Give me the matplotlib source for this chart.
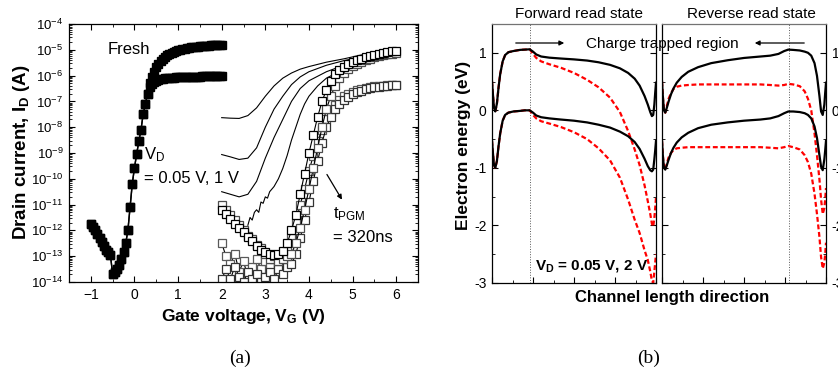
import numpy as np
import matplotlib.pyplot as plt
from matplotlib.patches import FancyArrowPatch
from matplotlib.ticker import LogLocator, NullFormatter, MultipleLocator

plt.rcParams['font.family'] = ['Liberation Sans', 'DejaVu Sans']
plt.rcParams['mathtext.fontset'] = 'custom'
plt.rcParams['mathtext.rm'] = 'Liberation Sans'
plt.rcParams['mathtext.it'] = 'Liberation Sans:italic'
plt.rcParams['mathtext.bf'] = 'Liberation Sans:bold'
plt.rcParams['xtick.direction'] = 'in'
plt.rcParams['ytick.direction'] = 'in'

W, H = 838, 382

# ---------------- (a) transfer curves, log10(I_D) ----------------
vg_fresh = np.round(np.linspace(-1.0, 2.0, 61), 2)
fresh_sub = [-11.75, -11.85, -12.0, -12.15, -12.3, -12.45, -12.6, -12.75, -12.85, -12.95,
             -13.7, -13.6, -13.5, -13.35, -13.1, -12.85, -12.5, -12.0, -11.1, -10.2,
             -9.58, -9.05, -8.55, -8.1, -7.5, -7.12, -6.7]
fresh_hi = [-6.3, -6.05, -5.85, -5.68, -5.55, -5.43, -5.34, -5.26, -5.2, -5.15,
            -5.11, -5.07, -5.04, -5.01, -4.99, -4.97, -4.95, -4.94, -4.93, -4.91,
            -4.9, -4.89, -4.88, -4.87, -4.86, -4.85, -4.85, -4.84, -4.83, -4.83,
            -4.82, -4.82, -4.81, -4.81]
fresh_lo = [-6.45, -6.32, -6.24, -6.19, -6.16, -6.14, -6.12, -6.11, -6.1, -6.09,
            -6.08, -6.08, -6.07, -6.07, -6.06, -6.06, -6.06, -6.05, -6.05, -6.05,
            -6.04, -6.04, -6.04, -6.04, -6.03, -6.03, -6.03, -6.03, -6.03, -6.02,
            -6.02, -6.02, -6.02, -6.02]

# short programming times (plain lines)
vg_line = [2.0, 2.2, 2.4, 2.6, 2.8, 3.0, 3.2, 3.4, 3.6, 3.8, 4.0, 4.4, 4.8, 5.2, 5.6, 6.0]
line1 = [-7.63, -7.65, -7.66, -7.55, -7.25, -6.8, -6.4, -6.1, -5.9, -5.75, -5.65, -5.48, -5.35, -5.2, -5.08, -4.95]
line2 = [-9.06, -9.15, -9.25, -9.2, -8.8, -8.0, -7.3, -6.8, -6.35, -6.05, -5.85, -5.6, -5.42, -5.28, -5.18, -5.08]
line3 = [-10.5, -10.6, -10.7, -10.6, -10.1, -9.2, -8.4, -7.7, -7.0, -6.5, -6.2, -5.85, -5.6, -5.42, -5.28, -5.15]
vg_line4 = [2.6, 2.65, 2.7, 2.75, 2.8, 2.85, 2.9, 2.95, 3.0, 3.05, 3.1, 3.2, 3.3, 3.4, 3.5,
            3.6, 3.7, 3.8, 3.9, 4.0, 4.2, 4.4, 4.8, 5.2, 5.6, 6.0]
line4 = [-11.8, -11.5, -11.6, -11.3, -11.2, -11.3, -10.9, -10.95, -10.7, -10.75, -10.5, -10.3, -10.0,
         -9.6, -9.1, -8.5, -8.0, -7.5, -7.1, -6.8, -6.4, -6.1, -5.75, -5.55, -5.4, -5.3]

# t_PGM = 320 ns (open squares)
vg_sq = np.round(np.linspace(2.0, 6.0, 41), 2)
sq_a = [-11.2, -11.35, -11.55, -11.75, -11.9, -12.05, -12.25, -12.4, -12.6, -12.75,
        -12.85, -12.9, -12.95, -12.9, -12.8, -12.5, -12.0, -11.4, -10.6, -9.8,
        -9.0, -8.3, -7.6, -7.0, -6.55, -6.2, -5.95, -5.78, -5.65, -5.55,
        -5.47, -5.4, -5.34, -5.29, -5.24, -5.2, -5.16, -5.12, -5.09, -5.06, -5.03]
sq_b = [-11.0, -11.2, -11.4, -11.6, -11.8, -12.0, -12.2, -12.35, -12.55, -12.7,
        -12.9, -13.1, -13.0, -13.2, -13.1, -13.0, -12.9, -12.5, -11.9, -11.2,
        -10.4, -9.6, -8.8, -8.0, -7.3, -6.8, -6.4, -6.1, -5.9, -5.75,
        -5.63, -5.54, -5.46, -5.4, -5.34, -5.29, -5.25, -5.21, -5.18, -5.15, -5.12]
sq_c = [-12.5, -13.0, -13.3, -12.9, -13.6, -13.2, -13.8, -13.4, -13.1, -13.5,
        -13.2, -13.4, -13.1, -13.3, -13.0, -12.8, -12.3, -11.7, -11.0, -10.4,
        -9.7, -9.1, -8.55, -8.1, -7.7, -7.4, -7.15, -6.95, -6.8, -6.7,
        -6.62, -6.56, -6.51, -6.47, -6.44, -6.42, -6.4, -6.39, -6.38, -6.37, -6.36]
sq_d = [-13.9, -13.5, -13.9, -13.4, -13.8, -14.0, -13.6, -13.9, -13.7, -14.0,
        -13.8, -13.6, -13.9, -13.5, -13.7, -13.4, -13.3, -12.9, -12.3, -11.6,
        -10.9, -10.1, -9.3, -8.6, -8.0, -7.6, -7.3, -7.1, -6.95, -6.83,
        -6.73, -6.65, -6.58, -6.53, -6.49, -6.46, -6.43, -6.41, -6.39, -6.38, -6.37]

# ---------------- (b) band diagrams ----------------
x_fwd = [0.0, 0.005, 0.012, 0.02, 0.03, 0.04, 0.05, 0.065, 0.08, 0.10, 0.13, 0.17, 0.20, 0.23,
         0.25, 0.27, 0.30, 0.35, 0.42, 0.50, 0.58, 0.65, 0.72, 0.78, 0.83, 0.87, 0.90, 0.93,
         0.95, 0.965, 0.975, 0.983, 0.99, 0.995, 1.0]
fwd_ec_lo = [0.50, 0.30, 0.05, -0.02, 0.12, 0.40, 0.63, 0.85, 0.96, 1.01, 1.03, 1.05, 1.055, 1.06,
             1.02, 0.97, 0.935, 0.915, 0.90, 0.885, 0.865, 0.835, 0.79, 0.73, 0.65, 0.55, 0.43, 0.25,
             0.10, -0.03, -0.10, -0.08, 0.10, 0.30, 0.48]
fwd_ec_hi = [0.50, 0.30, 0.05, -0.02, 0.12, 0.40, 0.63, 0.85, 0.96, 1.01, 1.03, 1.05, 1.055, 1.06,
             0.98, 0.91, 0.85, 0.80, 0.74, 0.65, 0.53, 0.40, 0.22, -0.03, -0.36, -0.68, -0.95, -1.30,
             -1.58, -1.80, -1.97, -2.02, -1.87, -1.70, -1.52]
fwd_ev_lo = [-0.53, -0.72, -0.95, -1.0, -0.88, -0.62, -0.40, -0.18, -0.08, -0.04, -0.02, -0.01, 0.0, 0.0,
             -0.04, -0.09, -0.12, -0.14, -0.16, -0.18, -0.21, -0.25, -0.30, -0.37, -0.45, -0.55, -0.67, -0.84,
             -0.97, -1.04, -1.06, -1.03, -0.85, -0.70, -0.53]
fwd_ev_hi = [-0.53, -0.72, -0.95, -1.0, -0.88, -0.62, -0.40, -0.18, -0.08, -0.04, -0.02, -0.01, 0.0, 0.0,
             -0.08, -0.14, -0.19, -0.23, -0.29, -0.38, -0.50, -0.66, -0.87, -1.17, -1.55, -1.90, -2.13, -2.43,
             -2.60, -2.80, -2.96, -3.0, -2.80, -2.65, -2.50]

x_rev = [0.0, 0.005, 0.012, 0.02, 0.03, 0.04, 0.055, 0.07, 0.09, 0.12, 0.16, 0.22, 0.30, 0.40, 0.50,
         0.60, 0.66, 0.71, 0.745, 0.77, 0.80, 0.84, 0.87, 0.89, 0.91, 0.93, 0.945, 0.96, 0.97,
         0.98, 0.99, 0.995, 1.0]
rev_ec_lo = [0.50, 0.25, 0.0, -0.04, 0.05, 0.15, 0.28, 0.38, 0.48, 0.58, 0.67, 0.75, 0.82, 0.87, 0.91,
             0.935, 0.95, 0.98, 1.03, 1.055, 1.05, 1.04, 1.02, 1.0, 0.95, 0.82, 0.60, 0.25, -0.02,
             -0.08, 0.10, 0.30, 0.48]
rev_ec_hi = [0.50, 0.25, 0.0, -0.04, 0.08, 0.20, 0.30, 0.37, 0.41, 0.43, 0.44, 0.45, 0.45, 0.45, 0.45,
             0.45, 0.44, 0.43, 0.44, 0.46, 0.45, 0.42, 0.33, 0.20, 0.0, -0.40, -0.78, -1.20, -1.55,
             -1.80, -1.70, -1.55, -1.35]
rev_ev_lo = [-0.53, -0.78, -1.0, -1.03, -0.95, -0.86, -0.74, -0.65, -0.56, -0.47, -0.39, -0.31, -0.25, -0.21, -0.18,
             -0.16, -0.14, -0.10, -0.05, -0.02, -0.02, -0.03, -0.05, -0.08, -0.14, -0.28, -0.48, -0.78, -0.98,
             -1.04, -0.85, -0.70, -0.53]
rev_ev_hi = [-0.53, -0.78, -1.0, -1.03, -0.92, -0.82, -0.74, -0.69, -0.66, -0.65, -0.64, -0.64, -0.64, -0.64, -0.64,
             -0.64, -0.65, -0.66, -0.64, -0.62, -0.64, -0.68, -0.78, -0.90, -1.10, -1.45, -1.80, -2.20, -2.55,
             -2.75, -2.65, -2.50, -2.30]


def fpx(x, y):
    # pixel position in the 838x382 picture -> figure fraction
    return x / W, 1 - y / H


fig = plt.figure(figsize=(W / 100, H / 100), dpi=100)

# ===== panel (a) =====
ax = fig.add_axes([69 / W, 1 - 282 / H, 349 / W, 258 / H])
ax.plot(vg_fresh, 10 ** np.array(fresh_sub + fresh_hi), 'k-', lw=1.0, marker='s', ms=5.6,
        mfc='k', mec='k')
ax.plot(vg_fresh, 10 ** np.array(fresh_sub + fresh_lo), 'k-', lw=1.0, marker='s', ms=5.6,
        mfc='k', mec='k')
for yy in (line1, line2, line3):
    ax.plot(vg_line, 10 ** np.array(yy), 'k-', lw=0.8)
ax.plot(vg_line4, 10 ** np.array(line4), 'k-', lw=0.8)
for yy, ec in ((sq_c, '0.35'), (sq_d, '0.2'), (sq_b, '0.3'), (sq_a, 'k')):
    ax.plot(vg_sq, 10 ** np.array(yy), '-', color='k', lw=0.8, marker='s', ms=6,
            mfc='white', mec=ec, mew=0.9)

ax.set_yscale('log')
ax.set_xlim(-1.5, 6.5)
ax.set_ylim(1e-14, 1e-4)
ax.xaxis.set_major_locator(MultipleLocator(1))
ax.xaxis.set_minor_locator(MultipleLocator(0.5))
ax.yaxis.set_major_locator(LogLocator(base=10, numticks=20))
ax.yaxis.set_minor_locator(LogLocator(base=10, subs=np.arange(2, 10), numticks=20))
ax.yaxis.set_minor_formatter(NullFormatter())
ax.tick_params(which='both', top=True, right=True, pad=4)
ax.tick_params(axis='x', labelsize=10)
ax.tick_params(axis='y', labelsize=9.5)
ax.tick_params(which='major', length=4, width=0.8)
ax.tick_params(which='minor', length=2, width=0.6)
for s in ax.spines.values():
    s.set_linewidth(0.9)

ax.text(-0.62, 10 ** -5.0, 'Fresh', fontsize=12, va='center')
fig.text(*fpx(144, 159), r'V$_\mathrm{D}$', fontsize=12)
fig.text(*fpx(144, 183), '= 0.05 V, 1 V', fontsize=12)
fig.text(*fpx(333, 218), r't$_\mathrm{PGM}$', fontsize=12)
fig.text(*fpx(333, 242), '= 320ns', fontsize=12)
ax.annotate('', xy=(4.79, 10 ** -10.9), xytext=(4.38, 10 ** -9.74),
            arrowprops=dict(arrowstyle='-|>', color='k', lw=0.9, mutation_scale=7))

fig.text(*fpx(243.5, 321), r'Gate voltage, V$_\mathbf{G}$ (V)', fontsize=12.5,
         fontweight='bold', ha='center', va='baseline')
fig.text(*fpx(22, 152.5), r'Drain current, I$_\mathbf{D}$ (A)', fontsize=13.5,
         fontweight='bold', ha='center', va='center', rotation=90)

# ===== panel (b) =====
bands = [(x_fwd, fwd_ec_lo, fwd_ec_hi, fwd_ev_lo, fwd_ev_hi, 0.23, 492),
         (x_rev, rev_ec_lo, rev_ec_hi, rev_ev_lo, rev_ev_hi, 0.774, 662)]
axes_b = []
for xs, ec_lo, ec_hi, ev_lo, ev_hi, xdot, left in bands:
    bx = fig.add_axes([left / W, 1 - 283 / H, 164 / W, 259 / H])
    bx.axvline(xdot, color='0.35', lw=0.7, ls=':')
    bx.plot(xs, ec_hi, color='#ff0000', lw=1.6, dashes=(2.2, 1.2))
    bx.plot(xs, ev_hi, color='#ff0000', lw=1.6, dashes=(2.2, 1.2))
    bx.plot(xs, ec_lo, 'k-', lw=1.6)
    bx.plot(xs, ev_lo, 'k-', lw=1.6)
    bx.set_xlim(0, 1)
    bx.set_ylim(-3, 1.5)
    bx.xaxis.set_major_locator(MultipleLocator(0.25))
    bx.xaxis.set_minor_locator(MultipleLocator(0.125))
    bx.yaxis.set_major_locator(MultipleLocator(1))
    bx.yaxis.set_minor_locator(MultipleLocator(0.5))
    bx.set_xticklabels([])
    bx.tick_params(which='both', left=True, right=True, labelsize=10, pad=4)
    bx.tick_params(which='major', length=4, width=0.8)
    bx.tick_params(which='minor', length=2, width=0.6)
    for s in bx.spines.values():
        s.set_linewidth(0.9)
    bx.spines['top'].set_color('0.45')
    axes_b.append(bx)

for bx in axes_b:
    bx.set_yticks([-3, -2, -1, 0, 1])
    bx.set_yticklabels(['-3', '-2', '-1', '0', '1'])
axes_b[1].tick_params(labelleft=False, labelright=True)

fig.text(*fpx(579, 18), 'Forward read state', fontsize=11, ha='center', va='baseline')
fig.text(*fpx(751, 18), 'Reverse read state', fontsize=11, ha='center', va='baseline')
fig.text(*fpx(662, 48), 'Charge trapped region', fontsize=11, ha='center', va='baseline')
fig.add_artist(FancyArrowPatch(fpx(513, 43), fpx(567, 43), transform=fig.transFigure,
                               arrowstyle='-|>', mutation_scale=7, color='k', lw=0.9))
fig.add_artist(FancyArrowPatch(fpx(807, 43), fpx(752, 43), transform=fig.transFigure,
                               arrowstyle='-|>', mutation_scale=7, color='k', lw=0.9))
fig.text(*fpx(535, 270), r'V$_\mathbf{D}$ = 0.05 V, 2 V', fontsize=11, fontweight='bold',
         va='baseline')
fig.text(*fpx(672, 302), 'Channel length direction', fontsize=12, fontweight='bold',
         ha='center', va='baseline')
fig.text(*fpx(463, 145), 'Electron energy (eV)', fontsize=12.5, fontweight='bold',
         ha='center', va='center', rotation=90)

fig.text(*fpx(240, 358), '(a)', fontsize=14, family=['Liberation Serif', 'DejaVu Serif'],
         ha='center', va='center')
fig.text(*fpx(649, 358), '(b)', fontsize=14, family=['Liberation Serif', 'DejaVu Serif'],
         ha='center', va='center')

fig.savefig('out.png', dpi=100)
